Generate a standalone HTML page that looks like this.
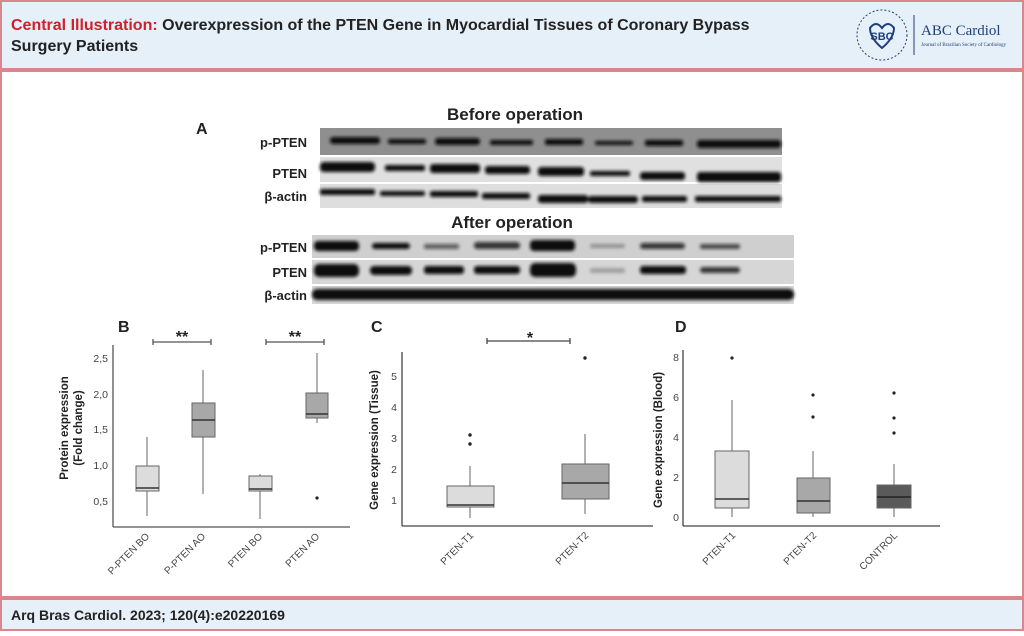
<!DOCTYPE html>
<html><head><meta charset="utf-8"><style>
body{margin:0;width:1024px;height:631px;overflow:hidden;background:#fff;font-family:"Liberation Sans",Arial,sans-serif}
</style></head><body>
<svg width="1024" height="631" viewBox="0 0 1024 631" xmlns="http://www.w3.org/2000/svg" font-family="Liberation Sans, Arial, sans-serif">
<defs>
<filter id="bl" x="-20%" y="-100%" width="140%" height="300%"><feGaussianBlur stdDeviation="1.6"/></filter>
</defs>
<rect x="1" y="1" width="1022" height="68" fill="#e6f0f9" stroke="#d9878d" stroke-width="2"/>
<rect x="1" y="71" width="1022" height="526" fill="#fff" stroke="#d9878d" stroke-width="2"/>
<rect x="1" y="599" width="1022" height="31" fill="#e6f0f9" stroke="#d9878d" stroke-width="2"/>
<text x="11" y="30" font-size="16" font-weight="bold"><tspan fill="#d0202a">Central Illustration:</tspan><tspan fill="#222"> Overexpression of the PTEN Gene in Myocardial Tissues of Coronary Bypass</tspan></text>
<text x="11" y="51" font-size="16" font-weight="bold" fill="#222">Surgery Patients</text>
<text x="11" y="620" font-size="14" font-weight="bold" fill="#222">Arq Bras Cardiol. 2023; 120(4):e20220169</text>
<circle cx="882" cy="35" r="25" fill="none" stroke="#1f3f7a" stroke-width="1" stroke-dasharray="2 2"/>
<path d="M870 28 q6-8 12 0 q6-8 12 0 q0 10 -12 20 q-12-10 -12-20z" fill="none" stroke="#1f3f7a" stroke-width="2"/>
<text x="882" y="40" font-size="11" font-weight="bold" fill="#1f3f7a" text-anchor="middle">SBC</text>
<line x1="914" y1="15" x2="914" y2="55" stroke="#1f3f7a"/>
<text x="921" y="35" font-size="15" fill="#1f3f7a" font-family="Liberation Serif, serif">ABC Cardiol</text>
<text x="921" y="46" font-size="5" fill="#1f3f7a" font-family="Liberation Serif, serif">Journal of Brazilian Society of Cardiology</text>

<text x="196" y="134" font-size="16" font-weight="bold" fill="#222">A</text>
<text x="515" y="120" font-size="17" font-weight="bold" fill="#222" text-anchor="middle">Before operation</text>
<text x="512" y="228" font-size="17" font-weight="bold" fill="#222" text-anchor="middle">After operation</text>
<g font-size="13" font-weight="bold" fill="#222" text-anchor="end">
<text x="307" y="147">p-PTEN</text><text x="307" y="178">PTEN</text><text x="307" y="201">β-actin</text>
<text x="307" y="252">p-PTEN</text><text x="307" y="277">PTEN</text><text x="307" y="300">β-actin</text>
</g>
<rect x="320" y="128" width="462" height="27" fill="#8f8f8f"/>
<rect x="320" y="157" width="462" height="25" fill="#e0e0e0"/>
<rect x="320" y="184" width="462" height="24" fill="#dedede"/>
<rect x="312" y="235" width="482" height="23" fill="#cfcfcf"/>
<rect x="312" y="260" width="482" height="24" fill="#d6d6d6"/>
<rect x="312" y="286" width="482" height="18" fill="#d9d9d9"/>
<g fill="#111" filter="url(#bl)">
<rect x="330" y="137" width="50" height="7" rx="3"/><rect x="388" y="139" width="38" height="5" rx="2"/><rect x="435" y="138" width="45" height="7" rx="3"/><rect x="490" y="140" width="43" height="5" rx="2"/><rect x="545" y="139" width="38" height="6" rx="2"/><rect x="595" y="141" width="38" height="4" rx="2"/><rect x="645" y="140" width="38" height="6" rx="2"/><rect x="697" y="140" width="84" height="8" rx="3"/>
<rect x="320" y="162" width="55" height="10" rx="4"/><rect x="385" y="165" width="40" height="6" rx="2"/><rect x="430" y="164" width="50" height="9" rx="3"/><rect x="485" y="166" width="45" height="8" rx="3"/><rect x="538" y="167" width="46" height="9" rx="3"/><rect x="590" y="171" width="40" height="5" rx="2"/><rect x="640" y="172" width="45" height="8" rx="3"/><rect x="697" y="172" width="84" height="10" rx="3"/>
<rect x="320" y="189" width="55" height="6" rx="2"/><rect x="380" y="191" width="45" height="5" rx="2"/><rect x="430" y="191" width="48" height="6" rx="2"/><rect x="482" y="193" width="48" height="6" rx="2"/><rect x="538" y="195" width="50" height="8" rx="3"/><rect x="588" y="196" width="50" height="7" rx="3"/><rect x="642" y="196" width="45" height="6" rx="2"/><rect x="695" y="196" width="86" height="6" rx="2"/>
<rect x="314" y="241" width="45" height="10" rx="4"/><rect x="372" y="243" width="38" height="6" rx="3"/><rect x="424" y="244" width="35" height="5" rx="2" opacity=".6"/><rect x="474" y="242" width="46" height="7" rx="3" opacity=".8"/><rect x="530" y="240" width="45" height="11" rx="4"/><rect x="590" y="244" width="35" height="4" rx="2" opacity=".3"/><rect x="640" y="243" width="45" height="6" rx="3" opacity=".8"/><rect x="700" y="244" width="40" height="5" rx="2" opacity=".7"/>
<rect x="314" y="264" width="45" height="13" rx="5"/><rect x="370" y="266" width="42" height="9" rx="4"/><rect x="424" y="266" width="40" height="8" rx="3"/><rect x="474" y="266" width="46" height="8" rx="3"/><rect x="530" y="263" width="46" height="14" rx="5"/><rect x="590" y="268" width="35" height="5" rx="2" opacity=".25"/><rect x="640" y="266" width="46" height="8" rx="3"/><rect x="700" y="267" width="40" height="6" rx="3" opacity=".8"/>
<rect x="312" y="289" width="482" height="11" rx="5"/>
</g>

<text x="118" y="332" font-size="16" font-weight="bold" fill="#222">B</text>
<g stroke="#555" fill="none" stroke-width="1.3">
<line x1="113" y1="345" x2="113" y2="527"/><line x1="113" y1="527" x2="350" y2="527"/>
<line x1="153" y1="342" x2="211" y2="342"/><line x1="153" y1="339" x2="153" y2="345"/><line x1="211" y1="339" x2="211" y2="345"/>
<line x1="266" y1="342" x2="324" y2="342"/><line x1="266" y1="339" x2="266" y2="345"/><line x1="324" y1="339" x2="324" y2="345"/>
</g>
<g font-size="16" font-weight="bold" fill="#222" text-anchor="middle"><text x="182" y="342">**</text><text x="295" y="342">**</text></g>
<g font-size="10.5" fill="#444" text-anchor="end">
<text x="108" y="362">2,5</text><text x="108" y="398">2,0</text><text x="108" y="433">1,5</text><text x="108" y="469">1,0</text><text x="108" y="505">0,5</text>
</g>
<text transform="translate(68,428) rotate(-90)" font-size="11.5" font-weight="bold" fill="#222" text-anchor="middle">Protein expression</text>
<text transform="translate(82,428) rotate(-90)" font-size="11.5" font-weight="bold" fill="#222" text-anchor="middle">(Fold change)</text>
<g stroke="#666" stroke-width="1">
<line x1="147" y1="516" x2="147" y2="437"/><rect x="136" y="466" width="23" height="25" fill="#dcdcdc"/><line x1="136" y1="488" x2="159" y2="488" stroke="#333" stroke-width="1.6"/>
<line x1="203" y1="494" x2="203" y2="370"/><rect x="192" y="403" width="23" height="34" fill="#a8a8a8"/><line x1="192" y1="420" x2="215" y2="420" stroke="#333" stroke-width="1.6"/>
<line x1="260" y1="519" x2="260" y2="474"/><rect x="249" y="476" width="23" height="15" fill="#dcdcdc"/><line x1="249" y1="489" x2="272" y2="489" stroke="#333" stroke-width="1.6"/>
<line x1="317" y1="423" x2="317" y2="353"/><rect x="306" y="393" width="22" height="25" fill="#a8a8a8"/><line x1="306" y1="414" x2="328" y2="414" stroke="#333" stroke-width="1.6"/>
</g>
<circle cx="317" cy="498" r="1.6" fill="#222"/>
<g font-size="10" fill="#444" text-anchor="end">
<text transform="translate(150,537) rotate(-45)">P-PTEN BO</text><text transform="translate(206,537) rotate(-45)">P-PTEN AO</text><text transform="translate(263,537) rotate(-45)">PTEN BO</text><text transform="translate(320,537) rotate(-45)">PTEN AO</text>
</g>

<text x="371" y="332" font-size="16" font-weight="bold" fill="#222">C</text>
<g stroke="#444" fill="none" stroke-width="1.3">
<line x1="402" y1="352" x2="402" y2="526"/><line x1="402" y1="526" x2="653" y2="526"/>
<line x1="487" y1="341" x2="570" y2="341"/><line x1="487" y1="338" x2="487" y2="344"/><line x1="570" y1="338" x2="570" y2="344"/>
</g>
<text x="530" y="343" font-size="16" font-weight="bold" fill="#222" text-anchor="middle">*</text>
<g font-size="10.5" fill="#444" text-anchor="end">
<text x="397" y="380">5</text><text x="397" y="411">4</text><text x="397" y="442">3</text><text x="397" y="473">2</text><text x="397" y="504">1</text>
</g>
<text transform="translate(378,440) rotate(-90)" font-size="11.5" font-weight="bold" fill="#222" text-anchor="middle">Gene expression (Tissue)</text>
<g stroke="#666" stroke-width="1">
<line x1="470" y1="518" x2="470" y2="466"/><rect x="447" y="486" width="47" height="21" fill="#dcdcdc"/><line x1="447" y1="505" x2="494" y2="505" stroke="#333" stroke-width="1.6"/>
<line x1="585" y1="514" x2="585" y2="434"/><rect x="562" y="464" width="47" height="35" fill="#a8a8a8"/><line x1="562" y1="483" x2="609" y2="483" stroke="#333" stroke-width="1.6"/>
</g>
<g fill="#222"><circle cx="470" cy="435" r="1.7"/><circle cx="470" cy="444" r="1.7"/><circle cx="585" cy="358" r="1.7"/></g>
<g font-size="10" fill="#444" text-anchor="end">
<text transform="translate(474,536) rotate(-45)">PTEN-T1</text><text transform="translate(589,536) rotate(-45)">PTEN-T2</text>
</g>

<text x="675" y="332" font-size="16" font-weight="bold" fill="#222">D</text>
<g stroke="#444" fill="none" stroke-width="1.3">
<line x1="683" y1="350" x2="683" y2="526"/><line x1="683" y1="526" x2="940" y2="526"/>
</g>
<g font-size="10.5" fill="#444" text-anchor="end">
<text x="679" y="361">8</text><text x="679" y="401">6</text><text x="679" y="441">4</text><text x="679" y="481">2</text><text x="679" y="521">0</text>
</g>
<text transform="translate(662,440) rotate(-90)" font-size="11.5" font-weight="bold" fill="#222" text-anchor="middle">Gene expression (Blood)</text>
<g stroke="#666" stroke-width="1">
<line x1="732" y1="517" x2="732" y2="400"/><rect x="715" y="451" width="34" height="57" fill="#dcdcdc"/><line x1="715" y1="499" x2="749" y2="499" stroke="#333" stroke-width="1.6"/>
<line x1="813" y1="517" x2="813" y2="451"/><rect x="797" y="478" width="33" height="35" fill="#a8a8a8"/><line x1="797" y1="501" x2="830" y2="501" stroke="#333" stroke-width="1.6"/>
<line x1="894" y1="517" x2="894" y2="464"/><rect x="877" y="485" width="34" height="23" fill="#5a5a5a"/><line x1="877" y1="497" x2="911" y2="497" stroke="#222" stroke-width="1.6"/>
</g>
<g fill="#222"><circle cx="732" cy="358" r="1.6"/><circle cx="813" cy="395" r="1.6"/><circle cx="813" cy="417" r="1.6"/><circle cx="894" cy="393" r="1.6"/><circle cx="894" cy="418" r="1.6"/><circle cx="894" cy="433" r="1.6"/></g>
<g font-size="10" fill="#444" text-anchor="end">
<text transform="translate(736,536) rotate(-45)">PTEN-T1</text><text transform="translate(817,536) rotate(-45)">PTEN-T2</text><text transform="translate(898,536) rotate(-45)">CONTROL</text>
</g>
</svg>
</body></html>
